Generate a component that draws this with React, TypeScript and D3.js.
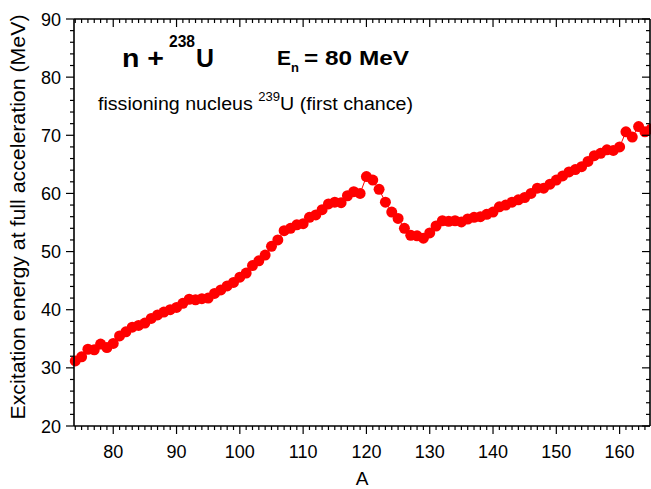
import React from "react";
import * as d3 from "d3";

const massNumbers: number[] = d3.range(74, 166);
const excitationEnergy: number[] = [
  31.2, 31.9, 33.2, 33.1, 34.1, 33.5, 34.2, 35.5, 36.2, 37.0,
  37.3, 37.7, 38.5, 39.1, 39.6, 40.0, 40.4, 41.1, 41.8, 41.7,
  41.9, 42.0, 42.8, 43.4, 44.1, 44.7, 45.6, 46.3, 47.6, 48.4,
  49.4, 50.9, 52.0, 53.6, 54.0, 54.6, 54.8, 55.9, 56.3, 57.2,
  58.2, 58.5, 58.4, 59.6, 60.3, 60.0, 62.9, 62.3, 60.7, 58.5,
  56.8, 55.7, 54.0, 52.8, 52.7, 52.3, 53.2, 54.4, 55.3, 55.2,
  55.3, 55.1, 55.6, 55.9, 56.0, 56.4, 56.8, 57.7, 58.0, 58.5,
  58.9, 59.3, 60.0, 60.9, 60.9, 61.6, 62.3, 63.0, 63.7, 64.1,
  64.6, 65.5, 66.5, 66.9, 67.5, 67.4, 68.0, 70.6, 69.7, 71.5,
  70.6, 71.1,
];
const xMajorTicks: number[] = [80, 90, 100, 110, 120, 130, 140, 150, 160];
const yMajorTicks: number[] = [20, 30, 40, 50, 60, 70, 80, 90];

const W = 651;
const H = 489;
const L = 74;
const R = 650;
const T = 19;
const B = 426;

export default function App() {
  const x = d3.scaleLinear().domain([73.8, 164.8]).range([L, R]);
  const y = d3.scaleLinear().domain([20, 90]).range([B, T]);
  const pts = massNumbers.map((a, i) => [a, excitationEnergy[i]] as [number, number]);
  const line = d3
    .line<[number, number]>()
    .x((d) => x(d[0]))
    .y((d) => y(d[1]));
  const xMinor = d3.range(74, 165).filter((v) => v % 10 !== 0);
  const yMinor = d3.range(20, 91, 2).filter((v) => v % 10 !== 0);
  const font = "'Liberation Sans', Arial, sans-serif";
  const sw = 1.6;

  return (
    <svg
      width={W}
      height={H}
      style={{ position: "absolute", left: 0, top: 0, background: "#fff" }}
      fontFamily={font}
    >
      <rect x={0} y={0} width={W} height={H} fill="#fff" />
      {/* data */}
      <path d={line(pts) || ""} fill="none" stroke="#ff0000" strokeWidth={1} />
      {pts.map((d, i) => (
        <circle key={i} cx={x(d[0])} cy={y(d[1])} r={5.5} fill="#ff0000" />
      ))}

      {/* axes frame */}
      <g stroke="#000" strokeWidth={sw}>
        <line x1={L} x2={R} y1={B} y2={B} />
        <line x1={L} x2={R} y1={T} y2={T} />
        <line x1={L} x2={L} y1={T} y2={B} />
        <line x1={R} x2={R} y1={T} y2={B} />
      </g>
      <g stroke="#000" strokeWidth={1.2}>
        {xMajorTicks.map((v) => (
          <g key={"xm" + v}>
            <line x1={x(v)} x2={x(v)} y1={B} y2={B + 8} />
            <line x1={x(v)} x2={x(v)} y1={T} y2={T + 8} />
          </g>
        ))}
        {xMinor.map((v) => (
          <g key={"xn" + v}>
            <line x1={x(v)} x2={x(v)} y1={B} y2={B + 4} />
            <line x1={x(v)} x2={x(v)} y1={T} y2={T + 4} />
          </g>
        ))}
        {yMajorTicks.map((v) => (
          <g key={"ym" + v}>
            <line x1={L} x2={L - 8} y1={y(v)} y2={y(v)} />
            <line x1={R} x2={R - 8} y1={y(v)} y2={y(v)} />
          </g>
        ))}
        {yMinor.map((v) => (
          <g key={"yn" + v}>
            <line x1={L} x2={L - 4} y1={y(v)} y2={y(v)} />
            <line x1={R} x2={R - 4} y1={y(v)} y2={y(v)} />
          </g>
        ))}
      </g>

      {/* tick labels */}
      {xMajorTicks.map((v) => (
        <text key={"xl" + v} x={x(v)} y={458} textAnchor="middle" fontSize={18} fill="#000">
          {v}
        </text>
      ))}
      {yMajorTicks.map((v) => (
        <text key={"yl" + v} x={61} y={y(v) + 6.5} textAnchor="end" fontSize={18} fill="#000">
          {v}
        </text>
      ))}

      {/* axis titles */}
      <text x={(L + R) / 2} y={485} textAnchor="middle" fontSize={19} fill="#000">
        A
      </text>
      <text
        transform={`translate(25,217) rotate(-90)`}
        textAnchor="middle"
        fontSize={20}
        fill="#000"
        textLength={405}
        lengthAdjust="spacingAndGlyphs"
      >
        Excitation energy at full acceleration (MeV)
      </text>

      {/* annotations */}
      <g fill="#000">
        <text x={122} y={67} fontSize={26} fontWeight="bold" textLength={42} lengthAdjust="spacingAndGlyphs">
          n +
        </text>
        <text x={169} y={47} fontSize={16} fontWeight="bold" textLength={26} lengthAdjust="spacingAndGlyphs">
          238
        </text>
        <text x={196} y={67} fontSize={26} fontWeight="bold" textLength={18} lengthAdjust="spacingAndGlyphs">
          U
        </text>
        <text x={277} y={65} fontSize={21} fontWeight="bold" textLength={14} lengthAdjust="spacingAndGlyphs">
          E
        </text>
        <text x={291} y={72} fontSize={13} fontWeight="bold">
          n
        </text>
        <text x={304} y={65} fontSize={21} fontWeight="bold" textLength={105} lengthAdjust="spacingAndGlyphs">
          = 80 MeV
        </text>
        <text x={98} y={110} fontSize={18} textLength={315} lengthAdjust="spacingAndGlyphs">
          fissioning nucleus{" "}
          <tspan fontSize={12} dy={-9}>
            239
          </tspan>
          <tspan dy={9}>U (first chance)</tspan>
        </text>
      </g>
    </svg>
  );
}
